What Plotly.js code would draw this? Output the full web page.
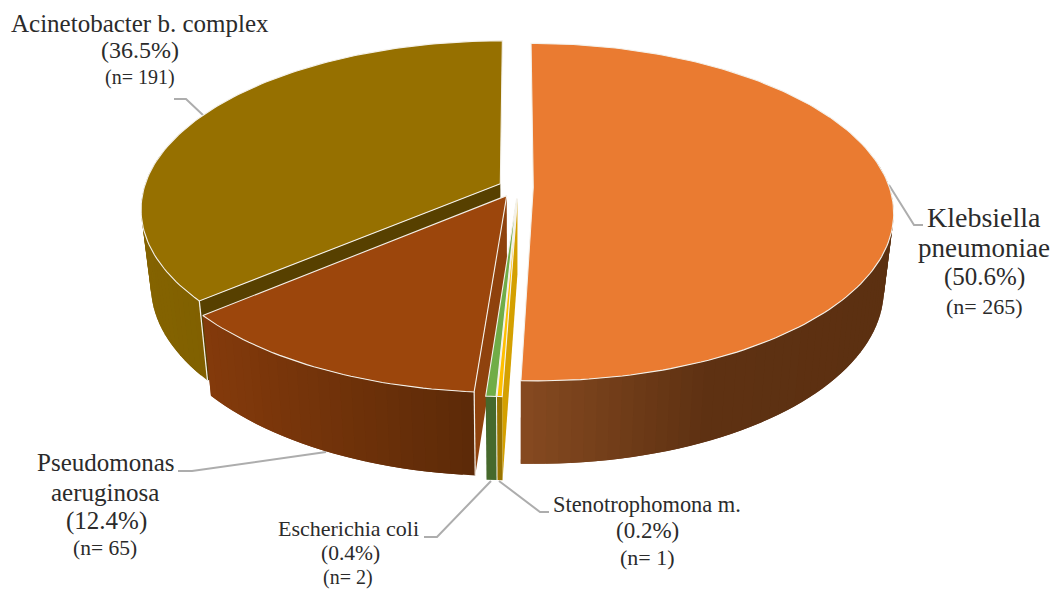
<!DOCTYPE html>
<html>
<head>
<meta charset="utf-8">
<script src="https://cdn.plot.ly/plotly-3.0.1.min.js"></script>
<style>html,body{margin:0;padding:0;background:#fff}#chart{width:1054px;height:589px}</style>
</head>
<body>
<div id="chart"></div>
<script>
// Isolates by organism, clockwise from twelve o'clock
const categories = ['Klebsiella pneumoniae', 'Stenotrophomona m.', 'Escherichia coli', 'Pseudomonas aeruginosa', 'Acinetobacter b. complex'];
const counts = [265, 1, 2, 65, 191];
const percentLabels = ['(50.6%)', '(0.2%)', '(0.4%)', '(12.4%)', '(36.5%)'];
const topColors = ['#EA7B31', '#FFC000', '#70AD47', '#9C460C', '#967000'];
const wallColors = [['#864A21', '#5E3112', '#5C3011'], ['#9A7400', '#9A7400'], ['#46692C', '#46692C'], ['#843A0B', '#5C2A08'], ['#846300', '#6E5200']];
const faceColors = [null, '#D4A000', null, '#8F420D', '#574000'];
const pulls = [0.0485, 0.07, 0.07, 0.058, 0.0485];
const sideShifts = [0, 0.007, 0.006, 0, 0];

// Perspective model of the exploded disc
const view = {x0: 516, y0: 187, a: 356, b: 165, k: 0.148, depth: 75, shrink: 0.974, yaw: 0.022};

const total = counts.reduce((s, c) => s + c, 0);
function project(u, v, z) {
  const d = 1 + view.k * v, s = z ? view.shrink : 1;
  return [view.x0 + view.a * u / d * s, view.y0 - view.b * v / d * s + z * view.depth / d];
}
const hexRgb = h => [1, 3, 5].map(i => parseInt(h.substr(i, 2), 16));
function ramp(stops, t) {
  t = Math.min(1, Math.max(0, t)) * (stops.length - 1);
  const i = Math.min(stops.length - 2, Math.floor(t)), f = t - i;
  const A = hexRgb(stops[i]), B = hexRgb(stops[i + 1]);
  return 'rgb(' + A.map((c, j) => Math.round(c + (B[j] - c) * f)).join(',') + ')';
}
function poly(points, fill, line, width) {
  return {type: 'scatter', mode: 'lines', x: points.map(p => p[0]), y: points.map(p => p[1]),
    fill: 'toself', fillcolor: fill, line: {color: line || fill, width: width === undefined ? 0 : width},
    hoverinfo: 'skip', showlegend: false};
}
function stroke(points, width) {
  return {type: 'scatter', mode: 'lines', x: points.map(p => p[0]), y: points.map(p => p[1]),
    line: {color: '#F4F1EA', width: width}, hoverinfo: 'skip', showlegend: false};
}

// Slice geometry follows from the counts
let cum = 0;
const slices = counts.map((c, i) => {
  const start = cum / total * 2 * Math.PI; cum += c;
  const end = cum / total * 2 * Math.PI, mid = (start + end) / 2;
  return {i, start, end, ou: pulls[i] * Math.sin(mid) + sideShifts[i], ov: pulls[i] * Math.cos(mid)};
});
const warp = th => th - view.yaw * Math.sin(th);
const rim = (s, th, z) => project(s.ou + Math.sin(warp(th)), s.ov + Math.cos(warp(th)), z);
const hub = (s, z) => project(s.ou, s.ov, z);

// Outer wall as overlapping strips so no seams show between the shades
function wallTraces(s) {
  const out = [], step = (s.end - s.start) / Math.max(1, Math.round((s.end - s.start) / 0.03));
  const n = Math.round((s.end - s.start) / step);
  const xs = [];
  for (let j = 0; j <= n; j++) xs.push(rim(s, s.start + step * j, 0)[0]);
  const lo = Math.min(...xs), hi = Math.max(...xs);
  for (let j = 0; j < n; j++) {
    const a = s.start + step * j, b = s.start + step * Math.min(n, j + 2);
    if (Math.cos(a + step / 2) > 0.15) continue; // back of the disc stays hidden
    const mx = (rim(s, a, 0)[0] + rim(s, a + step, 0)[0]) / 2;
    const pts = [];
    for (let q = 0; a + step * q <= b + 1e-9; q++) pts.push(rim(s, a + step * q, 0));
    for (let q = Math.round((b - a) / step); q >= 0; q--) pts.push(rim(s, a + step * q, 1));
    out.push(poly(pts, ramp(wallColors[s.i], (mx - lo) / Math.max(1, hi - lo))));
  }
  return out;
}
function faceTrace(s, th) {
  return poly([hub(s, 0), rim(s, th, 0), rim(s, th, 1), hub(s, 1)], faceColors[s.i]);
}
function topTrace(s) {
  const pts = [hub(s, 0)], n = Math.max(2, Math.round((s.end - s.start) / 0.02));
  for (let j = 0; j <= n; j++) pts.push(rim(s, s.start + (s.end - s.start) * j / n, 0));
  pts.push(hub(s, 0));
  return poly(pts, topColors[s.i], '#F4F1EA', 1.1);
}

const traces = [];
const [kleb, steno, ecoli, pseudo, acin] = slices;
// Back to front: each slice draws over the one behind it
traces.push(...wallTraces(acin), faceTrace(acin, acin.start), stroke([rim(acin, acin.start, 0), rim(acin, acin.start, 1)], 1.2), topTrace(acin));
traces.push(...wallTraces(pseudo), faceTrace(pseudo, pseudo.start), stroke([rim(pseudo, pseudo.start, 0), rim(pseudo, pseudo.start, 1)], 1.2), topTrace(pseudo));
traces.push(...wallTraces(ecoli), topTrace(ecoli));
traces.push(faceTrace(steno, steno.start), ...wallTraces(steno), topTrace(steno));
traces.push(...wallTraces(kleb), topTrace(kleb));

// Label text, one annotation per line
const serif = '"Liberation Serif", "Times New Roman", serif';
const textColor = '#2B2B2B';
function label(text, x, y, size) {
  return {text, x, y, xref: 'x', yref: 'y', xanchor: 'center', yanchor: 'middle', showarrow: false,
    font: {family: serif, size, color: textColor}};
}
const annotations = [
  label(categories[4], 140, 23, 25), label(percentLabels[4], 140, 50, 24), label('(n= ' + counts[4] + ')', 140, 77, 20),
  label('Klebsiella', 984, 217, 28), label('pneumoniae', 984, 248, 27), label(percentLabels[0], 984, 277, 25), label('(n= ' + counts[0] + ')', 984, 306, 22),
  label('Pseudomonas', 106, 462, 25), label('aeruginosa', 105, 492, 25), label(percentLabels[3], 106, 521, 25), label('(n= ' + counts[3] + ')', 105, 548, 21.5),
  label(categories[2], 348, 528, 22), label(percentLabels[2], 350, 553, 21.5), label('(n= ' + counts[2] + ')', 348, 577, 20),
  label(categories[1], 647, 504, 22.4), label(percentLabels[1], 647, 530, 23), label('(n= ' + counts[1] + ')', 647, 557, 22)
];

// Leader lines from the labels to the rim
const leader = d => ({type: 'path', path: d, xref: 'x', yref: 'y', line: {color: '#ADADAD', width: 2}, layer: 'below'});
const shapes = [
  leader('M174,99 L186,99 L204,116'),
  leader('M889,185 L914,225 L923,225'),
  leader('M178,471 L192,471 L326,452'),
  leader('M424,537 L437,537 L491,481'),
  leader('M499,481 L540,512 L549,512')
];

Plotly.newPlot('chart', traces, {
  width: 1054, height: 589, margin: {l: 0, r: 0, t: 0, b: 0},
  paper_bgcolor: '#ffffff', plot_bgcolor: '#ffffff', showlegend: false,
  xaxis: {range: [0, 1054], visible: false, fixedrange: true},
  yaxis: {range: [589, 0], visible: false, fixedrange: true},
  annotations, shapes
}, {staticPlot: true, displayModeBar: false});
</script>
</body>
</html>
